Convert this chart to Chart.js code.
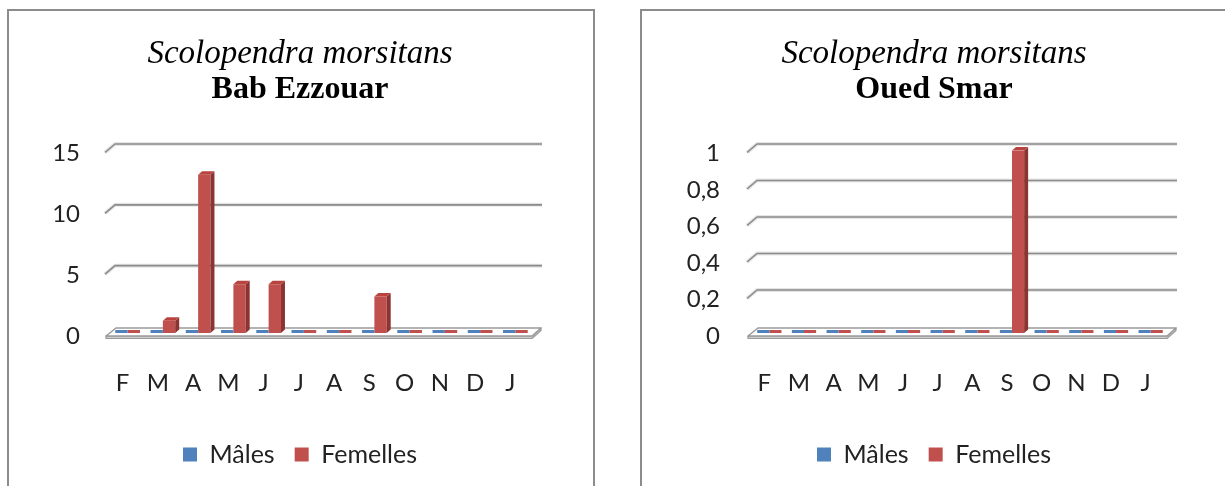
<!DOCTYPE html>
<html><head><meta charset="utf-8">
<script src="https://cdn.jsdelivr.net/npm/chart.js@4.4.1/dist/chart.umd.min.js"></script>
<style>
html,body{margin:0;padding:0;background:#fff;width:1225px;height:486px;overflow:hidden;position:relative;}
.panel{position:absolute;top:9px;height:540px;border:2px solid #8c8c8c;box-sizing:border-box;}
#p1{left:7px;width:588px;}
#p2{left:640px;width:700px;}
canvas{position:absolute;top:0;}
#c1{left:8px;}
#c2{left:645px;}
</style></head><body>
<div class="panel" id="p1"></div><div class="panel" id="p2"></div>
<canvas id="c1" width="585" height="486"></canvas>
<canvas id="c2" width="580" height="486"></canvas>
<script>
// ---- data ----
const months = ['F','M','A','M','J','J','A','S','O','N','D','J'];
const babMales    = [0,0,0,0,0,0,0,0,0,0,0,0];
const babFemelles = [0,1,13,4,4,0,0,3,0,0,0,0];
const smarMales    = [0,0,0,0,0,0,0,0,0,0,0,0];
const smarFemelles = [0,0,0,0,0,0,0,1,0,0,0,0];
const seriesNames = ['Mâles','Femelles'];
const titleSpecies = 'Scolopendra morsitans';
const titleSites = ['Bab Ezzouar','Oued Smar'];
const babTicks = {max: 15, step: 5};
const smarTicks = {max: 1, step: 0.2};

const BLUE = '#4f81bd', RED = '#c0504d';
const SIDE = {'#4f81bd': '#385d8a', '#c0504d': '#8c3431'};
const TOP  = {'#4f81bd': '#6a95c9', '#c0504d': '#b8433f'};

const threeD = {
  id: 'threeD',
  beforeDatasetsDraw(chart) {
    const {ctx, chartArea: a} = chart;
    const ys = chart.scales.y;
    const y0 = ys.getPixelForValue(0);
    ctx.save();
    ys.ticks.forEach(t => {
      if (t.value === 0) return;
      const py = ys.getPixelForValue(t.value);
      ctx.beginPath();
      ctx.moveTo(a.left - 5, py + 2);
      ctx.lineTo(a.left + 5, py - 6.5);
      ctx.lineTo(a.right + 9, py - 6.5);
      ctx.lineJoin = 'round';
      ctx.strokeStyle = 'rgba(0,0,0,0.10)'; ctx.lineWidth = 4; ctx.stroke();
      ctx.strokeStyle = '#8a8a8a'; ctx.lineWidth = 1.6; ctx.stroke();
    });
    // floor slab
    const fl = a.left - 4, fr = a.right - 1, ft = y0 + 3, bt = y0 - 5, dx = 9;
    ctx.beginPath();
    ctx.moveTo(fl, ft); ctx.lineTo(fr, ft); ctx.lineTo(fr + dx, bt);
    ctx.lineTo(fr + dx, bt + 2.5); ctx.lineTo(fr, ft + 2.5); ctx.lineTo(fl, ft + 2.5);
    ctx.closePath();
    ctx.fillStyle = '#cfcfcf'; ctx.fill();
    ctx.strokeStyle = '#9a9a9a'; ctx.lineWidth = 1.2; ctx.stroke();
    ctx.beginPath();
    ctx.moveTo(fl, ft); ctx.lineTo(fr, ft); ctx.lineTo(fr + dx, bt); ctx.lineTo(fl + dx + 1, bt);
    ctx.closePath();
    ctx.fillStyle = '#ffffff'; ctx.fill();
    ctx.strokeStyle = '#9a9a9a'; ctx.lineWidth = 1.5; ctx.stroke();
    ctx.restore();
  },
  afterDatasetsDraw(chart) {
    const {ctx} = chart;
    ctx.save();
    chart.data.datasets.forEach((ds, di) => {
      const meta = chart.getDatasetMeta(di);
      meta.data.forEach((bar, i) => {
        if (!(ds.data[i] > 0)) return;
        const p = bar.getProps(['x', 'y', 'base', 'width'], true);
        const l = p.x - p.width / 2, r = p.x + p.width / 2, d = 4, e = 3.5;
        ctx.beginPath();
        ctx.moveTo(r, p.y); ctx.lineTo(r + d, p.y - e); ctx.lineTo(r + d, p.base - e); ctx.lineTo(r, p.base);
        ctx.closePath();
        ctx.fillStyle = SIDE[ds.backgroundColor]; ctx.fill();
        ctx.beginPath();
        ctx.moveTo(l, p.y); ctx.lineTo(l + d, p.y - e); ctx.lineTo(r + d, p.y - e); ctx.lineTo(r, p.y);
        ctx.closePath();
        ctx.fillStyle = TOP[ds.backgroundColor]; ctx.fill();
      });
    });
    ctx.restore();
  }
};

function makeChart(id, site, males, femelles, tk, pad, yWidth, yPad, rightWidth) {
  return new Chart(document.getElementById(id), {
    type: 'bar',
    data: {
      labels: months,
      datasets: [
        {label: seriesNames[0], data: males, backgroundColor: BLUE, borderWidth: 0, minBarLength: 3, yAxisID: 'y'},
        {label: seriesNames[1], data: femelles, backgroundColor: RED, borderWidth: 0, minBarLength: 3, yAxisID: 'y'}
      ]
    },
    options: {
      responsive: false,
      animation: false,
      locale: 'fr-FR',
      datasets: {bar: {categoryPercentage: 0.7, barPercentage: 1.0}},
      layout: {padding: {left: pad.left, right: pad.right, top: 0, bottom: 9}},
      scales: {
        x: {
          grid: {display: false, drawTicks: false},
          border: {display: false},
          ticks: {font: {family: 'Lato', size: 24}, color: '#222', padding: 36, labelOffset: -5},
          afterFit(s) { s.height = 89; }
        },
        y: {
          position: 'left',
          min: 0, max: tk.max,
          grid: {display: false, drawTicks: false},
          border: {display: false},
          ticks: {stepSize: tk.step, font: {family: 'Lato', size: 24}, color: '#222', padding: yPad, labelOffset: 3,
            callback: v => v.toLocaleString('fr-FR')},
          afterFit(s) { s.width = yWidth; }
        },
        depth: {
          type: 'linear', position: 'right', display: true,
          grid: {display: false, drawTicks: false},
          border: {display: false},
          ticks: {display: false},
          afterFit(s) { s.width = rightWidth; }
        }
      },
      plugins: {
        title: {display: true, text: titleSpecies, color: '#000',
          font: {family: 'Liberation Serif', size: 33, style: 'italic', weight: 'normal', lineHeight: 1.1},
          padding: {top: 36, bottom: 0}},
        subtitle: {display: true, text: site, color: '#000',
          font: {family: 'Liberation Serif', size: 32, weight: 'bold', lineHeight: 1.1},
          padding: {top: 0, bottom: 43}},
        legend: {position: 'bottom',
          labels: {boxWidth: 14, boxHeight: 14, padding: 20, color: '#222', font: {family: 'Lato', size: 25}}},
        tooltip: {enabled: false}
      }
    },
    plugins: [threeD]
  });
}

makeChart('c1', titleSites[0], babMales, babFemelles, babTicks, {left: 0, right: 1}, 102, 30, 59);
makeChart('c2', titleSites[1], smarMales, smarFemelles, smarTicks, {left: 0, right: 2}, 107, 32, 55);
</script>
</body></html>
